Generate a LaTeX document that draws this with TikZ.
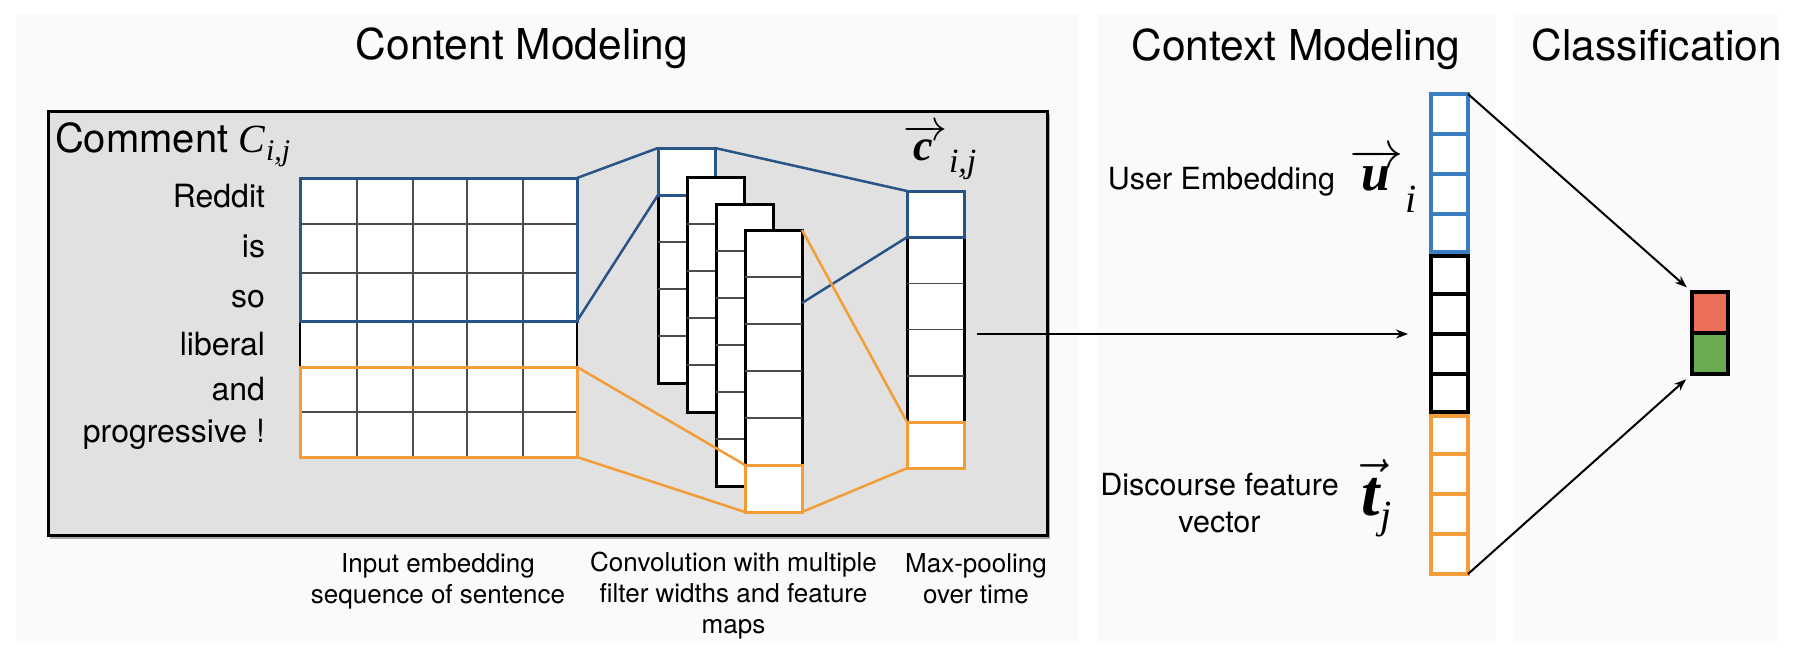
\documentclass[tikz,border=0pt]{standalone}
\usepackage{fix-cm}
\usepackage{fontspec}
\setmainfont{Liberation Serif}
\setsansfont{TeX Gyre Heros}
\newfontfamily\vecfont{Liberation Serif}
\usetikzlibrary{arrows.meta,positioning}

\definecolor{panelbg}{RGB}{250,250,250}
\definecolor{boxgray}{RGB}{225,225,225}
\definecolor{cnnblue}{RGB}{40,84,134}
\definecolor{usrblue}{RGB}{58,125,193}
\definecolor{dscorange}{RGB}{242,157,56}
\definecolor{clsred}{RGB}{235,110,88}
\definecolor{clsgreen}{RGB}{106,171,82}

\begin{document}
\begin{tikzpicture}[x=1pt,y=-1pt,
  every node/.style={inner sep=0pt,outer sep=0pt,font=\sffamily},
  title/.style={anchor=base,font=\sffamily\fontsize{42.5}{50}\selectfont},
  word/.style={anchor=base east,font=\sffamily\fontsize{32}{38}\selectfont},
  caption/.style={anchor=base,align=center,font=\sffamily\fontsize{26}{31}\selectfont},
  sidelabel/.style={font=\sffamily\fontsize{30.5}{37}\selectfont},
  gridline/.style={black!70,line width=1.5pt},
  hl/.style={draw=#1,line width=3pt,anchor=north west,minimum width=277pt},
  fmap/.style={draw,fill=white,line width=3pt,anchor=north west,minimum width=57pt},
  cnnlink/.style={#1,line width=2.5pt},
  vecbox/.style={draw=#1,fill=white,line width=4pt,anchor=north west,minimum width=37pt},
  clsbox/.style={draw,fill=#1,line width=4pt,anchor=north west,minimum width=36pt,minimum height=41pt},
  flow/.style={line width=2pt,-{Stealth[length=12pt,width=9pt]}}]

  \fill[white] (0,0) rectangle (1802,654);
  \useasboundingbox (0,0) rectangle (1802,654);

  % Panels
  \fill[panelbg] (16,14) rectangle (1079,643);
  \fill[panelbg] (1097,14) rectangle (1496,643);
  \fill[panelbg] (1514,14) rectangle (1778,643);
  \node[title] (ttlcontent) at (522,59) {Content Modeling};
  \node[title] (ttlcontext) at (1296,60) {Context Modeling};
  \node[title] (ttlclass) at (1657,60) {Classification};

  % Comment box
  \fill[black!35] (50,114) rectangle (1050,539);
  \node[draw,fill=boxgray,line width=3pt,anchor=north west,
    minimum width=999pt,minimum height=424pt] (cbox) at (48,111) {};
  \node[anchor=base west,font=\sffamily\fontsize{40}{46}\selectfont] (cmt) at (55,152)
    {Comment\kern10pt{\vecfont\itshape\fontsize{40}{40}\selectfont C\kern1pt\raisebox{-8pt}{\fontsize{30}{30}\selectfont i,j}}};

  % Words of the sentence
  \foreach \w/\yb [count=\i] in {Reddit/207,is/257,so/307,liberal/355,and/400,progressive !/442}
    \node[word] (w\i) at (265,\yb) {\w};

  % Input embedding grid
  \node[draw,fill=white,line width=2pt,anchor=north west,
    minimum width=277pt,minimum height=279pt] (emb) at (300,178) {};
  \foreach \ry in {224,273,321,367,412}
    \draw[gridline] (300,\ry) -- (577,\ry);
  \foreach \cx in {357,413,467,523}
    \draw[gridline] (\cx,178) -- (\cx,457);
  \node[hl=cnnblue,minimum height=143pt] (embu) at (300,178) {};
  \node[hl=dscorange,minimum height=90pt] (embt) at (300,367) {};

  % Feature maps
  \foreach \n/\mx/\my/\k in {1/658/148/5,2/687/177/5,3/716/204/6,4/745/230/6} {
    \node[fmap,minimum height=\k*47pt] (fm\n) at (\mx,\my) {};
    \pgfmathtruncatemacro{\kk}{\k-1}
    \foreach \c in {1,...,\kk}
      \draw[gridline] (\mx,\my+\c*47) -- ++(57,0);
    \ifnum\n=1
      \node[hl=cnnblue,minimum width=57pt,minimum height=47pt] (fm1u) at (\mx,\my) {};
    \fi
  }
  \node[hl=dscorange,minimum width=57pt,minimum height=47pt] (fm4t) at (745,465) {};

  % Max-pooled vector
  \node[fmap,minimum height=277pt] (pool) at (907,191) {};
  \foreach \c in {1,...,5}
    \draw[gridline] (907,191+\c*46.2) -- ++(57,0);
  \node[hl=cnnblue,minimum width=57pt,minimum height=46.2pt] (poolu) at (907,191) {};
  \node[hl=dscorange,minimum width=57pt,minimum height=46.2pt] (poolt) at (907,422) {};
  \node[anchor=base west] (clab) at (903,160)
    {\fontsize{44}{44}\selectfont$\overrightarrow{\mbox{\vecfont\bfseries\itshape\kern9pt c\kern12pt}}$\kern2pt\raisebox{-12pt}{\vecfont\itshape\fontsize{34}{34}\selectfont i,j}};

  % Filter links
  \coordinate (fm4mid) at (802,303);
  \draw[cnnlink=cnnblue] (embu.north east) -- (fm1u.north west);
  \draw[cnnlink=cnnblue] (embu.south east) -- (fm1u.south west);
  \draw[cnnlink=cnnblue] (fm1u.north east) -- (poolu.north west);
  \draw[cnnlink=cnnblue] (fm4mid) -- (poolu.south west);
  \draw[cnnlink=dscorange] (embt.north east) -- (fm4t.north west);
  \draw[cnnlink=dscorange] (embt.south east) -- (fm4t.south west);
  \draw[cnnlink=dscorange] (fm4.north east) -- (poolt.north west);
  \draw[cnnlink=dscorange] (fm4t.south east) -- (poolt.south west);

  % Captions (base = last line)
  \node[caption] (capemb) at (438,603) {Input embedding\\sequence of sentence};
  \node[caption] (capconv) at (733.5,633) {Convolution with multiple\\filter widths and feature\\maps};
  \node[caption] (cappool) at (976,603) {Max-pooling\\over time};

  % Context vector
  \node[vecbox=usrblue,minimum height=158pt] (ctxu) at (1431,94) {};
  \node[vecbox=black,minimum height=156pt] (ctxm) at (1431,256) {};
  \node[vecbox=dscorange,minimum height=158pt] (ctxt) at (1431,416) {};
  \foreach \g/\col in {0/usrblue,1/black,2/dscorange}
    \foreach \c in {1,2,3}
      \draw[\col,line width=3.5pt] (1431,94+\g*160+\c*40) -- ++(37,0);
  \node[sidelabel,anchor=base east] (ulab) at (1335,189) {User Embedding};
  \node[anchor=base west] (uvec) at (1348,190)
    {\fontsize{52}{52}\selectfont$\overrightarrow{\mbox{\vecfont\bfseries\itshape\kern13pt u\kern14pt}}$\kern2pt\raisebox{-22pt}{\vecfont\itshape\fontsize{40}{40}\selectfont i}};
  \node[sidelabel,anchor=base,align=center] (tlab) at (1219.5,532) {Discourse feature\\vector};
  \node[anchor=base west] (tvec) at (1361,515)
    {\fontsize{66}{66}\selectfont$\vec{\mbox{\vecfont\bfseries\itshape t}}$\kern1pt\raisebox{-13pt}{\vecfont\itshape\fontsize{40}{40}\selectfont j}};

  % Classification
  \node[clsbox=clsred] (clsr) at (1692,292) {};
  \node[clsbox=clsgreen] (clsg) at (1692,333) {};

  % Arrows
  \draw[flow,shorten <=13pt,shorten >=23pt] (ctxm.west -| pool.east) -- (ctxm.west);
  \draw[flow,shorten >=7pt] (ctxu.north east) -- (clsr.north west);
  \draw[flow,shorten >=8pt] (ctxt.south east) -- (clsg.south west);
\end{tikzpicture}
\end{document}
